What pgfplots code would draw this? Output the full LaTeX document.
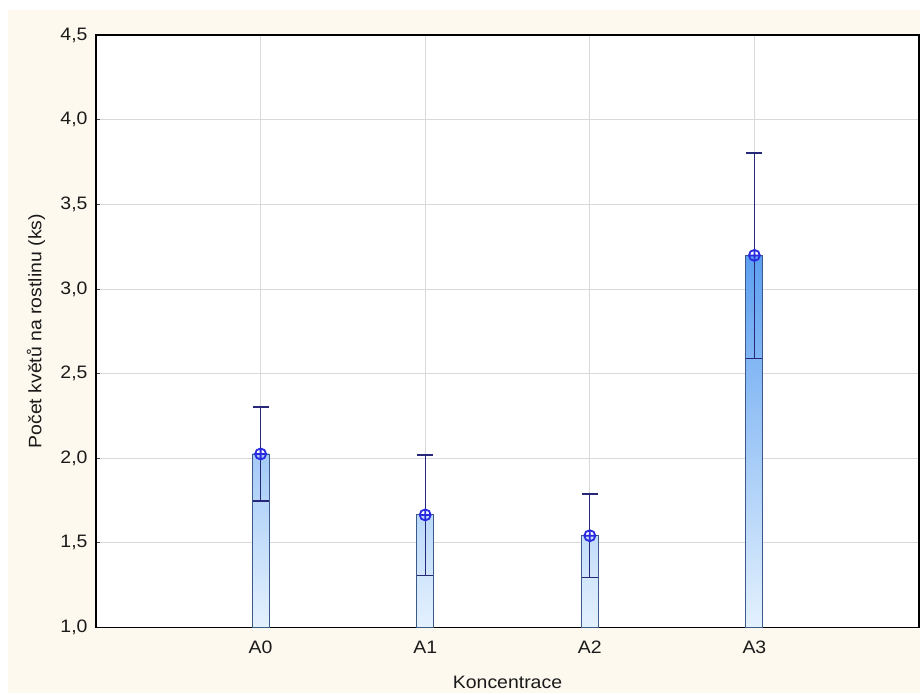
\documentclass[border=0pt]{standalone}
\usepackage{fontspec}
\setmainfont{Liberation Sans}[FakeStretch=1.08]
\usepackage{pgfplots}
\pgfplotsset{compat=1.18}

\definecolor{cream}{HTML}{FDF9EE}
\definecolor{barlight}{HTML}{E4F1FE}
\definecolor{bardark}{HTML}{5C9FF0}
\definecolor{baredge}{HTML}{3A5A8A}
\definecolor{whisker}{HTML}{282878}
\definecolor{meanblue}{HTML}{2A2AE0}
\definecolor{gridgray}{HTML}{D9D9D9}
\definecolor{textgray}{HTML}{1A1A1A}

\newcommand\chartfont{\fontsize{18pt}{21pt}\selectfont}

% means with their whisker lengths (upper / lower)
\pgfplotstableread{
x  m      ep     em
0  2.025  0.278  0.278
1  1.665  0.354  0.358
2  1.542  0.246  0.246
3  3.198  0.605  0.609
}\means

\begin{document}
\begin{tikzpicture}
\fill[white] (0,0) rectangle (924pt,695pt);
\fill[cream] (8pt,2pt) rectangle (920pt,685pt);
\begin{axis}[
  at={(96pt,67.5pt)}, anchor=south west,
  width=823pt, height=592.5pt, scale only axis,
  axis background/.style={fill=white},
  xmin=-1, xmax=4, ymin=1, ymax=4.5,
  xtick={0,1,2,3}, xticklabels={A0,A1,A2,A3},
  ytick={1,1.5,2,2.5,3,3.5,4,4.5},
  /pgf/number format/use comma,
  /pgf/number format/fixed,
  /pgf/number format/fixed zerofill,
  /pgf/number format/precision=1,
  /pgf/number format/assume math mode=true,
  tick label style={font=\chartfont, text=textgray},
  label style={font=\chartfont, text=textgray},
  xticklabel style={yshift=-10pt},
  yticklabel style={xshift=-5pt},
  xlabel={Koncentrace},
  ylabel={Počet květů na rostlinu (ks)},
  xlabel style={at={(axis description cs:0.5,-0.0929)}, anchor=center},
  ylabel style={at={(axis description cs:-0.0729,0.5)}, anchor=center},
  grid=major,
  major grid style={draw=gridgray, line width=0.8pt},
  axis line style={black, line width=1.4pt},
  tick style={draw=black!70, line width=0.8pt},
  major tick length=4pt, tick align=inside, tick pos=left,
]
% bars, shaded by height
\addplot[draw=baredge, line width=0.9pt, bottom color=barlight, top color=bardark!47!barlight]
  coordinates {(-0.0516,1) (0.0516,1) (0.0516,2.025) (-0.0516,2.025)} -- cycle;
\addplot[draw=baredge, line width=0.9pt, bottom color=barlight, top color=bardark!30!barlight]
  coordinates {(0.9484,1) (1.0516,1) (1.0516,1.665) (0.9484,1.665)} -- cycle;
\addplot[draw=baredge, line width=0.9pt, bottom color=barlight, top color=bardark!25!barlight]
  coordinates {(1.9484,1) (2.0516,1) (2.0516,1.542) (1.9484,1.542)} -- cycle;
\addplot[draw=baredge, line width=0.9pt, bottom color=barlight, top color=bardark]
  coordinates {(2.9484,1) (3.0516,1) (3.0516,3.198) (2.9484,3.198)} -- cycle;
% means with whiskers
\addplot[only marks, mark=oplus,
  mark options={draw=meanblue, fill=none, line width=1.8pt}, mark size=5.5pt,
  error bars/.cd, y dir=both, y explicit, error mark=|,
  error bar style={draw=whisker, line width=1.2pt},
  error mark options={draw=whisker, line width=1.2pt, mark size=8pt}]
  table[x=x, y=m, y error plus=ep, y error minus=em] {\means};
\end{axis}
\end{tikzpicture}
\end{document}
